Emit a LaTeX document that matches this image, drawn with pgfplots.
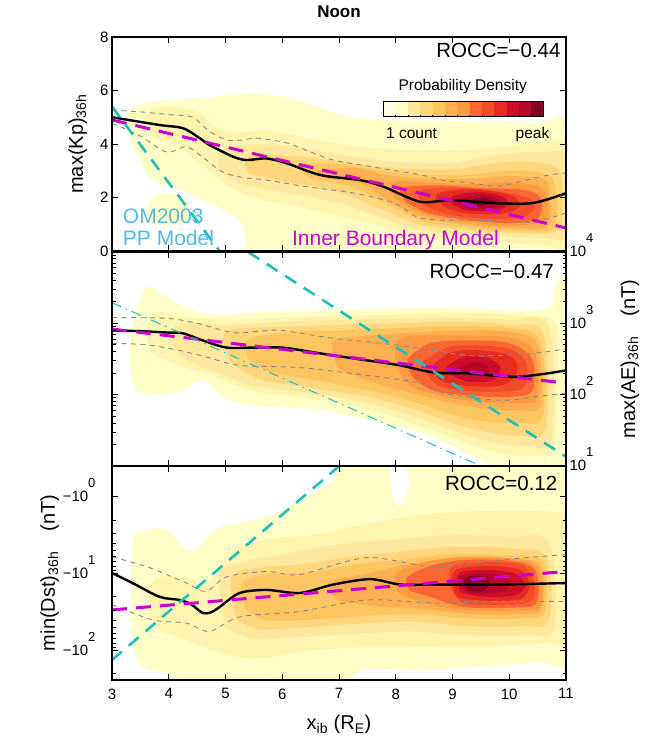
\documentclass[border=0pt]{standalone}
\usepackage{fontspec}
\setmainfont{Liberation Sans}
\usepackage{pgfplots}
\pgfplotsset{compat=1.18}

% density levels (outer -> peak)
\definecolor{l1}{HTML}{FFFFC8}
\definecolor{l2}{HTML}{FFF5B0}
\definecolor{l3}{HTML}{FFE89E}
\definecolor{l4}{HTML}{FED77C}
\definecolor{l5}{HTML}{FEC563}
\definecolor{l6}{HTML}{FDAF52}
\definecolor{l7}{HTML}{FD9A44}
\definecolor{l8}{HTML}{FC6634}
\definecolor{l9}{HTML}{F44B29}
\definecolor{l10}{HTML}{E62C22}
\definecolor{l11}{HTML}{CD0D2B}
\definecolor{l12}{HTML}{B8082A}
\definecolor{l13}{HTML}{870026}
\definecolor{cb1}{HTML}{FFFFE3}
\definecolor{cyanl}{HTML}{1FBFBF}
\definecolor{magl}{HTML}{CC00CC}
\definecolor{omblue}{HTML}{4DBDEB}
\definecolor{qgray}{HTML}{8A8A8A}

\newcommand{\fs}[1]{\fontsize{#1}{#1}\selectfont}
\newcommand{\sps}[1]{\raisebox{14pt}{\fs{13}#1}}

\pgfplotsset{
  panel/.style={
    scale only axis, width=454pt, height=214pt,
    xmin=3, xmax=11, xtick={3,...,11},
    tick align=inside, major tick length=6pt, minor tick length=3.5pt,
    every tick/.style={black, line width=0.9pt},
    axis line style={line width=1.3pt},
    tick label style={font=\fs{15}},
    label style={font=\fs{20}},
    /pgf/number format/assume math mode=true,
    axis on top,
  },
  lev/.style={fill=#1, draw=none, smooth, tension=0.55},
  q/.style={qgray, line width=0.9pt, dash pattern=on 5pt off 4.5pt, smooth, tension=0.5},
  med/.style={black, line width=2.4pt, smooth, tension=0.5},
  ibm/.style={magl, line width=3pt, dash pattern=on 15pt off 9pt},
  om/.style={cyanl, line width=2.6pt, dash pattern=on 13pt off 9pt},
  omdd/.style={cyanl, line width=1pt, dash pattern=on 10pt off 5pt on 1.5pt off 5pt},
}

\begin{document}
\begin{tikzpicture}[x=1pt,y=1pt]
\path[use as bounding box] (0,0) rectangle (645,751);

% ---------------- Kp ----------------
\begin{axis}[panel, name=top, at={(112pt,500pt)}, anchor=south west,
  ymin=0, ymax=8, ytick={0,2,4,6,8}, xticklabels={},
  ylabel={max(Kp)\textsubscript{36h}},
  ylabel style={at={(axis description cs:-0.064,0.5)}, anchor=base}]
\addplot[lev=l1] coordinates {(3.22,4.9)(3.37,5.34)(3.72,5.59)(4.55,5.71)(5.25,5.87)(5.84,5.84)(6.43,5.52)(7.02,5.09)(7.61,4.9)(8.67,4.87)(9.85,4.83)(10.44,4.77)(11.3,4.65)(11.3,-1)(5.4,-1)(5.37,0.3)(5.25,1.1)(4.9,1.6)(4.55,1.95)(4.2,2.3)(3.8,2.55)(3.6,2.9)(3.5,3.4)(3.37,3.9)(3.22,4.9)};
\addplot[lev=l1] coordinates {(3.62,1.5)(3.75,2.05)(4.1,2.15)(4.35,1.8)(4.3,1.1)(3.9,0.95)(3.65,1.15)(3.62,1.5)};
\addplot[lev=l2] coordinates {(3.5,4.7)(3.7,5.3)(4.1,5.4)(4.5,5.2)(4.85,4.6)(5.2,4.45)(5.8,4.5)(6.5,4.2)(7.2,3.95)(8.0,3.8)(9.0,3.75)(9.8,3.9)(10.4,4.0)(11.3,3.9)(11.3,0.2)(10.5,0.25)(9.5,0.35)(8.5,0.5)(7.8,0.9)(7.0,1.3)(6.2,1.7)(5.5,2.0)(5.0,2.5)(4.6,3.2)(4.2,3.9)(3.8,4.2)(3.5,4.7)};
\addplot[lev=l3] coordinates {(4.9,3.0)(4.9,3.7)(5.5,4.0)(6.2,3.9)(7.0,3.6)(8.0,3.35)(9.0,3.3)(9.8,3.6)(10.5,3.7)(11.3,3.5)(11.3,0.6)(10.5,0.5)(9.5,0.6)(8.5,0.75)(7.8,1.2)(7.0,1.8)(6.0,2.2)(5.3,2.5)(4.9,3.0)};
\addplot[lev=l4] coordinates {(5.4,2.9)(5.4,3.5)(6.2,3.55)(7.0,3.35)(8.0,3.1)(9.0,3.05)(9.8,3.3)(10.5,3.3)(10.9,2.9)(10.9,0.9)(10.4,0.65)(9.5,0.75)(8.5,0.95)(7.8,1.5)(7.0,2.2)(6.0,2.6)(5.4,2.9)};
\addplot[lev=l5] coordinates {(6.5,2.7)(6.3,3.2)(7.0,3.25)(7.8,3.0)(8.5,2.85)(9.3,2.85)(10.0,3.0)(10.6,2.9)(10.8,2.5)(10.8,0.9)(10.3,0.75)(9.4,0.85)(8.5,1.1)(7.9,1.7)(7.2,2.4)(6.5,2.7)};
\addplot[lev=l6] coordinates {(6.8,2.7)(6.6,3.0)(7.3,3.1)(7.8,2.85)(8.5,2.7)(9.3,2.7)(10.0,2.8)(10.6,2.7)(10.7,2.2)(10.7,0.95)(10.2,0.85)(9.4,0.95)(8.6,1.2)(8.0,1.7)(7.4,2.5)(6.8,2.7)};
\addplot[lev=l7] coordinates {(7.9,2.2)(8.0,2.6)(8.6,2.55)(9.4,2.5)(10.1,2.55)(10.6,2.3)(10.65,1.2)(10.1,0.95)(9.4,1.05)(8.6,1.3)(8.1,1.8)(7.9,2.2)};
\addplot[lev=l8] coordinates {(8.2,1.8)(8.1,2.35)(8.8,2.45)(9.5,2.35)(10.2,2.3)(10.55,2.0)(10.5,1.2)(10.0,1.05)(9.3,1.15)(8.6,1.4)(8.2,1.8)};
\addplot[lev=l9] coordinates {(8.4,2.0)(8.5,2.3)(9.2,2.35)(9.9,2.2)(10.4,1.9)(10.35,1.35)(9.8,1.2)(9.1,1.3)(8.6,1.6)(8.4,2.0)};
\addplot[lev=l10] coordinates {(8.7,1.95)(8.8,2.2)(9.4,2.3)(10.0,2.1)(10.2,1.7)(9.9,1.4)(9.3,1.4)(8.9,1.6)(8.7,1.95)};
\addplot[lev=l11] coordinates {(9.0,1.75)(9.0,2.05)(9.5,2.2)(9.95,1.95)(9.85,1.55)(9.3,1.5)(9.0,1.75)};
\addplot[lev=l12] coordinates {(9.15,1.8)(9.2,1.98)(9.5,2.1)(9.85,1.9)(9.7,1.6)(9.3,1.6)(9.15,1.8)};
\addplot[lev=l13] coordinates {(9.3,1.8)(9.35,1.92)(9.55,2.0)(9.72,1.85)(9.55,1.7)(9.35,1.74)(9.3,1.8)};
% quartiles, median, models
\addplot[q] coordinates {(3,5.27)(3.5,5.2)(4.0,5.1)(4.42,5.0)(4.7,4.5)(5.02,4.15)(5.3,4.15)(5.55,4.22)(6.08,4.04)(6.5,3.7)(6.9,3.4)(7.6,3.14)(8.0,3.0)(8.43,2.85)(8.9,2.62)(9.3,2.55)(9.8,2.42)(10.2,2.6)(10.6,2.8)(11,2.92)};
\addplot[q] coordinates {(3,4.78)(3.5,4.3)(3.96,3.7)(4.31,3.9)(4.6,3.5)(4.95,2.95)(5.3,2.75)(5.73,2.65)(6.43,2.4)(7.25,2.17)(7.96,1.8)(8.38,1.27)(8.8,1.15)(9.26,1.16)(9.85,1.12)(10.43,1.08)(11,1.42)};
\addplot[med] coordinates {(3,5.0)(3.84,4.71)(4.25,4.59)(4.55,4.21)(4.72,3.96)(5.13,3.53)(5.37,3.40)(5.72,3.46)(6.08,3.28)(6.67,2.84)(7.37,2.65)(7.79,2.40)(8.43,1.84)(8.97,1.90)(9.85,1.78)(10.44,1.80)(11,2.16)};
\addplot[ibm] coordinates {(3,4.9)(11,0.86)};
\addplot[om] coordinates {(3,5.4)(5.0,-0.3)};
% colour key
\fill[cb1] (axis cs:7.78,5.01) rectangle (axis cs:7.998,5.57);
\fill[l1] (axis cs:7.998,5.01) rectangle (axis cs:8.215,5.57);
\fill[l3] (axis cs:8.215,5.01) rectangle (axis cs:8.433,5.57);
\fill[l4] (axis cs:8.433,5.01) rectangle (axis cs:8.651,5.57);
\fill[l5] (axis cs:8.651,5.01) rectangle (axis cs:8.868,5.57);
\fill[l6] (axis cs:8.868,5.01) rectangle (axis cs:9.086,5.57);
\fill[l7] (axis cs:9.086,5.01) rectangle (axis cs:9.303,5.57);
\fill[l8] (axis cs:9.303,5.01) rectangle (axis cs:9.521,5.57);
\fill[l9] (axis cs:9.521,5.01) rectangle (axis cs:9.739,5.57);
\fill[l10] (axis cs:9.739,5.01) rectangle (axis cs:9.957,5.57);
\fill[l11] (axis cs:9.957,5.01) rectangle (axis cs:10.174,5.57);
\fill[l12] (axis cs:10.174,5.01) rectangle (axis cs:10.392,5.57);
\fill[l13] (axis cs:10.392,5.01) rectangle (axis cs:10.61,5.57);
\draw[line width=1pt] (axis cs:7.78,5.01) rectangle (axis cs:10.61,5.57);
\draw[line width=0.6pt] (axis cs:7.998,5.01)--(axis cs:7.998,5.1) (axis cs:8.215,5.01)--(axis cs:8.215,5.1) (axis cs:8.433,5.01)--(axis cs:8.433,5.1) (axis cs:8.651,5.01)--(axis cs:8.651,5.1) (axis cs:8.868,5.01)--(axis cs:8.868,5.1) (axis cs:9.086,5.01)--(axis cs:9.086,5.1) (axis cs:9.303,5.01)--(axis cs:9.303,5.1) (axis cs:9.521,5.01)--(axis cs:9.521,5.1) (axis cs:9.739,5.01)--(axis cs:9.739,5.1) (axis cs:9.957,5.01)--(axis cs:9.957,5.1) (axis cs:10.174,5.01)--(axis cs:10.174,5.1) (axis cs:10.392,5.01)--(axis cs:10.392,5.1);
\node[anchor=base, font=\fs{15.5}, inner sep=0] at (axis cs:9.18,5.99) {Probability Density};
\node[anchor=base, font=\fs{15.5}, inner sep=0] at (axis cs:8.28,4.19) {1 count};
\node[anchor=base, font=\fs{15.5}, inner sep=0] at (axis cs:10.41,4.19) {peak};
\node[anchor=base east, font=\fs{20.5}, inner sep=0] at (axis cs:10.906,7.24) {ROCC=−0.44};
\node[anchor=base west, font=\fs{21}, inner sep=0, text=omblue] at (axis cs:3.19,1.01) {OM2003};
\node[anchor=base west, font=\fs{21}, inner sep=0, text=omblue] at (axis cs:3.19,0.22) {PP Model};
\node[anchor=base west, font=\fs{21}, inner sep=0, text=magl] at (axis cs:6.17,0.22) {Inner Boundary Model};
\end{axis}

% ---------------- AE (log10) ----------------
\begin{axis}[panel, name=mid, at={(112pt,285pt)}, anchor=south west,
  ymin=1, ymax=4, ytick={1,2,3,4}, xticklabels={},
  yticklabels={10\sps{1},10\sps{2},10\sps{3},10\sps{4}},
  yticklabel pos=right,
  yticklabel style={anchor=base west, yshift=-5pt},
  minor ytick={1.301,1.477,1.602,1.699,1.778,1.845,1.903,1.954,2.301,2.477,2.602,2.699,2.778,2.845,2.903,2.954,3.301,3.477,3.602,3.699,3.778,3.845,3.903,3.954},
  ylabel={max(AE)\textsubscript{36h}\quad(nT)},
  ylabel style={at={(axis description cs:1.152,0.5)}, anchor=base}]
\addplot[lev=l1] coordinates {(3.3,2.6)(3.4,3.1)(3.6,3.5)(3.9,3.4)(4.3,3.22)(4.8,3.12)(5.5,3.15)(6.5,3.18)(7.5,3.2)(8.5,3.22)(9.5,3.2)(10.4,3.18)(10.75,3.25)(10.85,3.6)(11.3,3.6)(11.3,0.5)(9.6,0.5)(9.6,1.0)(9.2,1.2)(8.5,1.45)(7.5,1.65)(6.5,1.8)(5.5,1.85)(5.0,1.95)(4.6,2.2)(4.2,2.05)(3.8,2.0)(3.4,2.1)(3.3,2.6)};
\addplot[lev=l2] coordinates {(3.6,2.9)(3.8,3.15)(4.2,3.1)(5.0,3.05)(6.0,3.08)(7.0,3.1)(8.0,3.12)(9.0,3.15)(10.0,3.12)(10.75,3.05)(10.85,2.6)(10.8,1.3)(10.5,1.15)(10.0,1.15)(9.5,1.25)(9.0,1.4)(8.3,1.6)(7.5,1.8)(6.5,1.95)(5.5,2.05)(4.8,2.25)(4.2,2.4)(3.7,2.6)(3.6,2.9)};
\addplot[lev=l3] coordinates {(4.0,2.75)(4.2,3.0)(5.0,2.98)(6.0,3.02)(7.0,3.05)(8.0,3.06)(9.0,3.08)(10.0,3.05)(10.7,2.95)(10.75,1.4)(10.3,1.28)(9.6,1.35)(9.0,1.5)(8.3,1.7)(7.5,1.88)(6.5,2.02)(5.5,2.12)(4.8,2.32)(4.3,2.5)(4.0,2.75)};
\addplot[lev=l4] coordinates {(5.1,2.45)(5.0,2.88)(6.0,2.95)(7.0,2.98)(8.0,3.0)(9.0,3.02)(10.0,2.98)(10.6,2.85)(10.65,1.55)(10.2,1.42)(9.6,1.48)(9.0,1.6)(8.3,1.8)(7.5,1.97)(6.5,2.1)(5.6,2.22)(5.1,2.45)};
\addplot[lev=l5] coordinates {(5.4,2.5)(5.4,2.78)(6.2,2.88)(7.0,2.9)(8.0,2.93)(9.0,2.96)(10.0,2.93)(10.55,2.75)(10.6,1.7)(10.2,1.6)(9.6,1.62)(9.0,1.72)(8.4,1.88)(7.6,2.05)(6.6,2.2)(5.8,2.32)(5.4,2.5)};
\addplot[lev=l6] coordinates {(7.0,2.35)(6.9,2.75)(7.6,2.83)(8.3,2.87)(9.0,2.9)(10.0,2.88)(10.5,2.7)(10.55,1.85)(10.2,1.78)(9.6,1.8)(9.0,1.88)(8.4,2.0)(7.7,2.15)(7.0,2.35)};
\addplot[lev=l7] coordinates {(8.0,2.5)(8.1,2.8)(9.0,2.83)(10.0,2.8)(10.45,2.6)(10.5,1.95)(10.2,1.88)(9.5,1.9)(8.8,1.98)(8.2,2.15)(8.0,2.5)};
\addplot[lev=l8] coordinates {(8.2,2.5)(8.6,2.72)(9.3,2.76)(10.0,2.72)(10.4,2.5)(10.4,2.05)(10.0,1.97)(9.4,1.98)(8.7,2.05)(8.3,2.25)(8.2,2.5)};
\addplot[lev=l9] coordinates {(8.45,2.45)(8.9,2.66)(9.4,2.69)(10.0,2.64)(10.3,2.45)(10.25,2.1)(9.8,2.04)(9.2,2.06)(8.7,2.15)(8.45,2.45)};
\addplot[lev=l10] coordinates {(8.65,2.42)(9.0,2.6)(9.5,2.62)(10.0,2.55)(10.15,2.35)(9.9,2.14)(9.3,2.12)(8.8,2.2)(8.65,2.42)};
\addplot[lev=l11] coordinates {(8.9,2.4)(9.2,2.53)(9.6,2.52)(9.85,2.38)(9.7,2.2)(9.3,2.18)(9.0,2.27)(8.9,2.4)};
\addplot[lev=l12] coordinates {(9.1,2.36)(9.35,2.46)(9.6,2.42)(9.62,2.3)(9.3,2.26)(9.1,2.36)};
\addplot[q] coordinates {(3,3.08)(3.96,3.07)(4.5,3.0)(5.13,2.87)(5.6,2.89)(6.0,2.9)(6.9,2.79)(8.08,2.69)(9.26,2.55)(9.8,2.55)(10.43,2.58)(11,2.64)};
\addplot[q] coordinates {(3,2.72)(3.6,2.7)(4.19,2.62)(4.7,2.52)(5.25,2.41)(6.31,2.38)(7.49,2.27)(8.38,2.17)(8.84,2.02)(9.85,1.92)(10.43,1.97)(11,2.02)};
\addplot[med] coordinates {(3,2.9)(3.5,2.89)(4.0,2.87)(4.25,2.86)(4.6,2.76)(5.02,2.66)(5.5,2.66)(6.0,2.66)(6.5,2.6)(6.9,2.55)(7.5,2.48)(8.08,2.41)(8.67,2.31)(9.26,2.3)(9.7,2.27)(10.14,2.25)(10.6,2.29)(11,2.34)};
\addplot[ibm] coordinates {(3,2.92)(11,2.16)};
\addplot[om] coordinates {(5.4,4.0)(11,1.13)};
\addplot[omdd] coordinates {(3,3.29)(9.5,1.0)};
\node[anchor=base east, font=\fs{20.5}, inner sep=0] at (axis cs:10.79,3.625) {ROCC=−0.47};
\end{axis}

% ---------------- Dst (log10 |Dst|, reversed) ----------------
\begin{axis}[panel, name=bot, at={(112pt,71pt)}, anchor=south west,
  ymin=-0.4, ymax=2.38, y dir=reverse, ytick={0,1,2},
  yticklabels={−10\sps{0},−10\sps{1},−10\sps{2}},
  yticklabel style={anchor=base east, xshift=-13pt, yshift=-5pt},
  xticklabel style={yshift=-5pt},
  minor ytick={0.301,0.477,0.602,0.699,0.778,0.845,0.903,0.954,1.301,1.477,1.602,1.699,1.778,1.845,1.903,1.954,2.301},
  ylabel={min(Dst)\textsubscript{36h}\quad(nT)},
  ylabel style={at={(axis description cs:-0.1256,0.5)}, anchor=base},
  xlabel={x\textsubscript{ib} (R\textsubscript{E})},
  xlabel style={at={(axis description cs:0.5,-0.2336)}, anchor=base}]
\addplot[lev=l1] coordinates {(3.35,1.8)(3.35,0.65)(3.54,0.45)(3.96,0.43)(4.31,0.69)(4.55,0.65)(4.9,0.4)(5.73,0.26)(6.55,-0.05)(6.9,-0.22)(7.2,-0.7)(7.84,-0.7)(7.9,-0.2)(8.0,0.08)(8.13,0.08)(8.25,-0.2)(8.31,-0.7)(11.3,-0.7)(11.3,2.0)(10.5,2.15)(9.5,2.2)(8.5,2.25)(7.4,2.25)(7.0,2.5)(5.9,2.5)(5.75,2.3)(5.6,2.5)(4.3,2.5)(4.0,2.3)(3.5,2.2)(3.35,1.8)};
\addplot[lev=l2] coordinates {(3.6,1.3)(3.8,1.05)(4.3,1.05)(4.7,1.1)(5.1,0.7)(5.7,0.55)(6.5,0.5)(7.5,0.35)(8.3,0.25)(9.0,0.2)(10.0,0.18)(10.8,0.2)(11.3,0.3)(11.3,1.8)(10.6,1.9)(9.5,1.95)(8.5,1.95)(7.5,1.95)(6.5,2.0)(5.5,2.1)(4.8,2.0)(4.3,1.85)(3.8,1.7)(3.6,1.3)};
\addplot[lev=l3] coordinates {(5.0,1.7)(4.9,1.0)(5.3,0.85)(6.0,0.75)(7.0,0.62)(8.0,0.55)(9.0,0.5)(10.0,0.52)(10.7,0.6)(10.8,1.7)(10.3,1.8)(9.3,1.8)(8.3,1.75)(7.3,1.78)(6.3,1.82)(5.5,1.85)(5.0,1.7)};
\addplot[lev=l4] coordinates {(5.2,1.6)(5.1,1.05)(5.6,0.92)(6.3,0.88)(7.2,0.78)(8.0,0.72)(9.0,0.65)(10.0,0.67)(10.65,0.78)(10.7,1.6)(10.2,1.68)(9.3,1.68)(8.3,1.62)(7.3,1.65)(6.3,1.7)(5.6,1.72)(5.2,1.6)};
\addplot[lev=l5] coordinates {(5.35,1.45)(5.3,1.12)(5.8,1.0)(6.5,0.98)(7.3,0.88)(8.1,0.82)(9.0,0.75)(10.0,0.76)(10.6,0.85)(10.62,1.5)(10.2,1.58)(9.3,1.58)(8.3,1.52)(7.4,1.55)(6.4,1.6)(5.7,1.6)(5.35,1.45)};
\addplot[lev=l6] coordinates {(7.0,1.35)(6.8,1.12)(7.5,1.0)(8.2,0.88)(9.0,0.8)(10.0,0.8)(10.55,0.9)(10.58,1.45)(10.2,1.52)(9.3,1.52)(8.4,1.45)(7.6,1.42)(7.0,1.35)};
\addplot[lev=l7] coordinates {(8.05,1.25)(8.0,1.0)(8.5,0.85)(9.2,0.78)(10.0,0.8)(10.5,0.92)(10.55,1.42)(10.1,1.48)(9.2,1.47)(8.5,1.38)(8.05,1.25)};
\addplot[lev=l8] coordinates {(8.25,1.22)(8.2,1.05)(8.6,0.9)(9.2,0.82)(10.0,0.83)(10.45,0.95)(10.48,1.38)(10.0,1.44)(9.2,1.43)(8.6,1.3)(8.25,1.22)};
\addplot[lev=l9] coordinates {(8.95,1.15)(9.0,0.9)(9.6,0.85)(10.2,0.88)(10.42,1.05)(10.4,1.35)(9.9,1.4)(9.2,1.38)(8.95,1.15)};
\addplot[lev=l10] coordinates {(9.0,1.12)(9.05,0.95)(9.6,0.9)(10.2,0.95)(10.35,1.15)(10.2,1.33)(9.6,1.35)(9.1,1.3)(9.0,1.12)};
\addplot[lev=l11] coordinates {(9.15,1.25)(9.1,1.0)(9.6,0.95)(10.1,1.0)(10.28,1.15)(10.1,1.28)(9.6,1.3)(9.15,1.25)};
\addplot[lev=l12] coordinates {(9.15,1.15)(9.15,1.03)(9.5,0.99)(9.9,1.03)(10.0,1.15)(9.8,1.25)(9.3,1.25)(9.15,1.15)};
\addplot[lev=l13] coordinates {(9.2,1.12)(9.25,1.05)(9.5,1.02)(9.65,1.1)(9.55,1.22)(9.3,1.22)(9.2,1.12)};
\addplot[q] coordinates {(3,0.78)(3.66,0.92)(4.31,1.12)(4.66,1.23)(5.02,1.04)(5.73,0.97)(6.31,1.01)(7.49,0.79)(8.67,0.91)(9.85,0.82)(11,0.75)};
\addplot[q] coordinates {(3,1.40)(3.72,1.6)(4.31,1.64)(4.72,1.75)(5.25,1.56)(6.31,1.49)(7.49,1.34)(8.67,1.38)(9.85,1.36)(11,1.36)};
\addplot[med] coordinates {(3,0.99)(3.36,1.12)(3.84,1.30)(4.19,1.34)(4.4,1.4)(4.6,1.51)(4.75,1.5)(4.9,1.43)(5.25,1.25)(5.73,1.21)(6.31,1.25)(6.9,1.14)(7.55,1.07)(8.08,1.14)(8.67,1.14)(9.85,1.14)(11,1.12)};
\addplot[ibm] coordinates {(3,1.47)(11,0.97)};
\addplot[om] coordinates {(3,2.12)(7.1,-0.46)};
\node[anchor=base east, font=\fs{20.5}, inner sep=0] at (axis cs:10.85,-0.082) {ROCC=0.12};
\end{axis}

\node[anchor=base, font=\fs{17}\bfseries] at (339,733) {Noon};
\end{tikzpicture}
\end{document}
